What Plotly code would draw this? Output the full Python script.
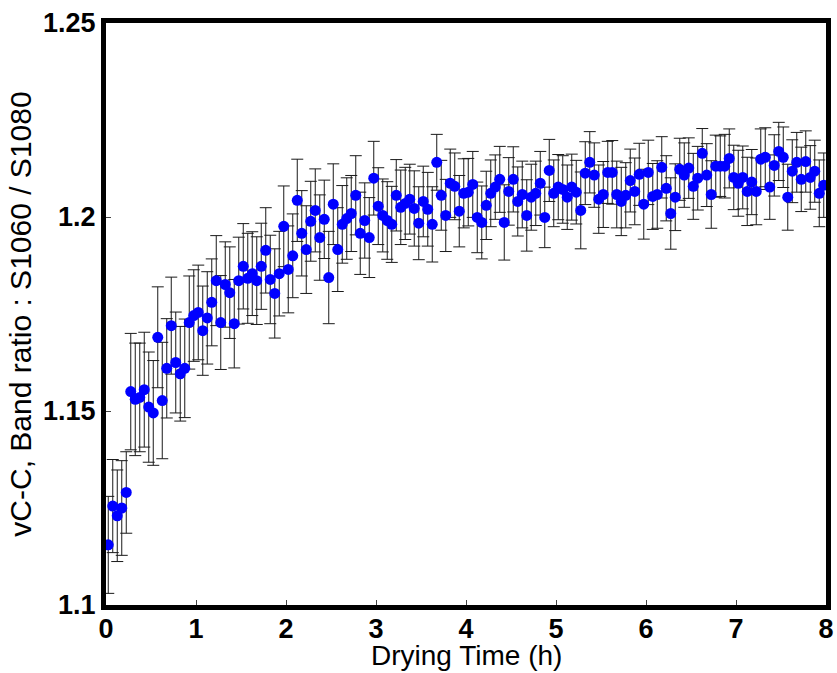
import plotly.graph_objects as go

# drying time grid (h), one spectrum every 3 min
n_points = 160
drying_time = [round(0.025 + 0.05 * i, 3) for i in range(n_points)]

band_ratio = [
    1.1155, 1.1255, 1.1230, 1.1250, 1.1290, 1.1550, 1.1530, 1.1535, 1.1555, 1.1510,
    1.1495, 1.1690, 1.1527, 1.1610, 1.1720, 1.1625, 1.1596, 1.1610, 1.1728, 1.1746,
    1.1754, 1.1707, 1.1740, 1.1780, 1.1836, 1.1728, 1.1826, 1.1805, 1.1725, 1.1836,
    1.1873, 1.1842, 1.1854, 1.1836, 1.1873, 1.1914, 1.1839, 1.1803, 1.1854, 1.1976,
    1.1865, 1.1900, 1.2043, 1.1958, 1.1916, 1.1989, 1.2017, 1.1947, 1.1994, 1.1844,
    1.2033, 1.1916, 1.1981, 1.1996, 1.2009, 1.2056, 1.1958, 1.1991, 1.1947, 1.2100,
    1.2028, 1.2004, 1.1991, 1.1981, 1.2056, 1.2025, 1.2035, 1.2046, 1.2022, 1.1984,
    1.2040, 1.2020, 1.1981, 1.2141, 1.2056, 1.2004, 1.2087, 1.2079, 1.2015, 1.2061,
    1.2064, 1.2084, 1.1999, 1.1986, 1.2030, 1.2061, 1.2077, 1.2097, 1.1986, 1.2066,
    1.2097, 1.2040, 1.2058, 1.2004, 1.2051, 1.2061, 1.2087, 1.1999, 1.2120, 1.2061,
    1.2077, 1.2071, 1.2051, 1.2077, 1.2064, 1.2017, 1.2113, 1.2141, 1.2108, 1.2046,
    1.2058, 1.2115, 1.2115, 1.2058, 1.2040, 1.2056, 1.2094, 1.2066, 1.2110, 1.2033,
    1.2115, 1.2053, 1.2058, 1.2128, 1.2074, 1.2009, 1.2051, 1.2123, 1.2108, 1.2126,
    1.2079, 1.2100, 1.2164, 1.2108, 1.2058, 1.2131, 1.2131, 1.2131, 1.2151, 1.2102,
    1.2087, 1.2102, 1.2066, 1.2090, 1.2066, 1.2149, 1.2154, 1.2077, 1.2133, 1.2169,
    1.2154, 1.2051, 1.2118, 1.2141, 1.2097, 1.2143, 1.2102, 1.2118, 1.2061, 1.2082,
]

ratio_sd = [
    0.0125, 0.0120, 0.0118, 0.0122, 0.0105, 0.0150, 0.0145, 0.0140, 0.0148, 0.0142,
    0.0135, 0.0130, 0.0150, 0.0128, 0.0125, 0.0130, 0.0122, 0.0127, 0.0120, 0.0118,
    0.0122, 0.0115, 0.0119, 0.0112, 0.0116, 0.0121, 0.0110, 0.0118, 0.0114, 0.0112,
    0.0110, 0.0116, 0.0108, 0.0113, 0.0111, 0.0110, 0.0114, 0.0115, 0.0109, 0.0104,
    0.0112, 0.0108, 0.0106, 0.0110, 0.0113, 0.0103, 0.0107, 0.0110, 0.0101, 0.0119,
    0.0104, 0.0108, 0.0100, 0.0105, 0.0098, 0.0102, 0.0106, 0.0097, 0.0103, 0.0095,
    0.0099, 0.0094, 0.0100, 0.0098, 0.0092, 0.0096, 0.0093, 0.0090, 0.0097, 0.0094,
    0.0091, 0.0095, 0.0097, 0.0072, 0.0090, 0.0093, 0.0088, 0.0086, 0.0092, 0.0089,
    0.0087, 0.0085, 0.0091, 0.0094, 0.0088, 0.0086, 0.0083, 0.0085, 0.0097, 0.0087,
    0.0084, 0.0089, 0.0086, 0.0092, 0.0085, 0.0083, 0.0082, 0.0078, 0.0080, 0.0086,
    0.0084, 0.0087, 0.0083, 0.0085, 0.0082, 0.0099, 0.0081, 0.0079, 0.0083, 0.0088,
    0.0085, 0.0080, 0.0082, 0.0086, 0.0088, 0.0084, 0.0081, 0.0086, 0.0080, 0.0090,
    0.0083, 0.0085, 0.0087, 0.0079, 0.0084, 0.0092, 0.0086, 0.0080, 0.0083, 0.0078,
    0.0085, 0.0082, 0.0064, 0.0081, 0.0087, 0.0080, 0.0078, 0.0082, 0.0076, 0.0083,
    0.0085, 0.0081, 0.0088, 0.0084, 0.0086, 0.0078, 0.0076, 0.0083, 0.0079, 0.0075,
    0.0078, 0.0085, 0.0081, 0.0077, 0.0083, 0.0079, 0.0082, 0.0080, 0.0086, 0.0083,
]

fig = go.Figure()
fig.add_trace(go.Scatter(
    x=drying_time,
    y=band_ratio,
    mode='markers',
    marker=dict(color='#0000ff', size=11, line=dict(width=0)),
    error_y=dict(type='data', array=ratio_sd, visible=True,
                 color='#1a1a1a', thickness=1, width=6),
    cliponaxis=True,
    showlegend=False,
))

tick_font = dict(family='Liberation Sans, Arial, sans-serif', size=27, color='black', weight='bold')
title_font = dict(family='Liberation Sans, Arial, sans-serif', size=30, color='black')

fig.update_layout(
    width=837, height=673,
    margin=dict(l=106, r=11, t=23, b=68),
    paper_bgcolor='white',
    plot_bgcolor='white',
    font=dict(family='Liberation Sans, Arial, sans-serif', color='black'),
    xaxis=dict(
        range=[0, 8],
        dtick=1,
        automargin=False,
        showgrid=False, zeroline=False,
        showline=True, linewidth=5, linecolor='black', mirror=True,
        ticks='inside', ticklen=5, tickwidth=1, tickcolor='#444',
        tickfont=tick_font,
        ticklabelstandoff=-4,
    ),
    yaxis=dict(
        range=[1.1, 1.25],
        dtick=0.05,
        automargin=False,
        showgrid=False, zeroline=False,
        showline=True, linewidth=5, linecolor='black', mirror=True,
        ticks='inside', ticklen=5, tickwidth=1, tickcolor='#444',
        tickfont=tick_font,
        title=dict(text='vC-C, Band ratio : S1060 / S1080', font=title_font, standoff=4),
    ),
)

# x title placed by hand: plotly's own placement collides with the big tick labels
fig.add_annotation(
    text='Drying Time (h)', font=dict(title_font, size=28), showarrow=False,
    xref='paper', yref='paper', x=0.5, y=-68 / 582,
    xanchor='center', yanchor='bottom',
)

# drop the browser's default 8px body margin so the figure fills the window
fig.write_html("out.html", config={'displayModeBar': False},
               post_script="document.body.style.margin='0';")
